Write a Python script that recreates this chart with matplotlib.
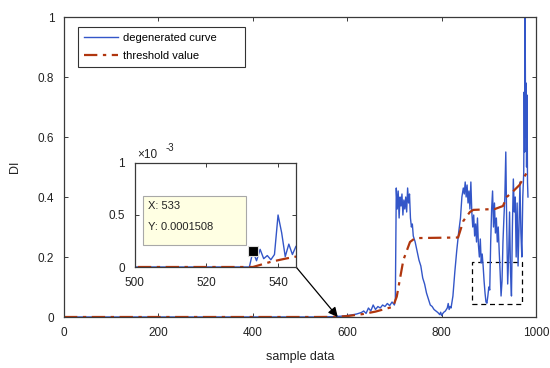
import matplotlib
matplotlib.use("Agg")
import matplotlib.pyplot as plt
from matplotlib.patches import Rectangle
from matplotlib.ticker import FuncFormatter

plt.rcParams['font.family'] = ['Liberation Sans', 'DejaVu Sans']

# ---- data: degenerated curve (DI vs sample) ----
curve_x = [0, 532, 533, 534, 535, 536, 537, 538, 539, 540, 541, 542, 543, 544, 545, 546,
           550, 560, 570, 580, 590, 600, 610, 620, 630, 635, 640, 645, 650, 655, 660, 665,
           670, 675, 680, 685, 690, 695, 700, 702,
           704, 706, 708, 710, 712, 714, 716, 718, 720, 722, 724, 726, 728, 730, 732, 734,
           736, 738, 740, 744, 748, 752, 756, 760, 764, 768, 772, 776, 780, 784, 788, 792,
           796, 798, 800, 804, 808, 812, 814, 816, 818, 820, 822, 824, 828, 832, 836, 840,
           843, 846, 848, 850, 852, 854, 856, 858, 860, 862, 864, 866, 868, 870, 872, 874,
           876, 878, 880, 882, 884, 886, 888, 890, 892, 894, 896, 898, 900, 902, 904, 906,
           908, 910, 912, 914, 916, 918, 920, 922, 924, 926, 928, 930, 932, 934, 936, 938,
           940, 942, 944, 946, 948, 950, 952, 954, 956, 958, 960, 962, 964, 966, 968, 970,
           972, 974, 975, 976, 977, 978, 979, 980, 981, 982, 983]
curve_y = [0, 0, 1.508e-4, 0.6e-4, 1.7e-4, 0.8e-4, 1.1e-4, 0.7e-4, 1.2e-4, 5.0e-4, 3.3e-4,
           1.0e-4, 2.2e-4, 1.2e-4, 2.0e-4, 1.5e-4,
           0.0003, 0.0005, 0.001, 0.002, 0.003, 0.005, 0.007, 0.010, 0.015, 0.020, 0.012,
           0.030, 0.020, 0.040, 0.025, 0.035, 0.030, 0.040, 0.035, 0.045, 0.038, 0.050,
           0.040, 0.060,
           0.43, 0.36, 0.42, 0.33, 0.40, 0.37, 0.41, 0.34, 0.39, 0.36, 0.40, 0.35, 0.43,
           0.38, 0.41, 0.33, 0.30, 0.31, 0.27, 0.25, 0.22, 0.19, 0.17, 0.13, 0.11, 0.08,
           0.06, 0.04, 0.035, 0.025, 0.020, 0.015, 0.008, 0.016, 0.005, 0.015, 0.020, 0.030,
           0.045, 0.025, 0.035, 0.030, 0.050, 0.070, 0.15, 0.22, 0.28, 0.33,
           0.40, 0.43, 0.41, 0.45, 0.40, 0.44, 0.38, 0.42, 0.36, 0.45, 0.35, 0.30, 0.34,
           0.27, 0.31, 0.25, 0.33, 0.24, 0.20, 0.26, 0.18, 0.21, 0.17, 0.12, 0.08, 0.05,
           0.046, 0.07, 0.10, 0.09, 0.25, 0.36, 0.42, 0.30, 0.38, 0.28, 0.33, 0.25, 0.30,
           0.22, 0.15, 0.07, 0.12, 0.25, 0.33, 0.40, 0.55, 0.30, 0.11, 0.20, 0.35, 0.15,
           0.07, 0.30, 0.46, 0.35, 0.40, 0.20, 0.38, 0.17, 0.30, 0.45, 0.28, 0.20, 0.40,
           0.48, 0.75, 0.55, 1.00, 0.60, 0.78, 0.50, 0.74, 0.45, 0.40]

# ---- data: threshold value ----
thr_x = [0, 533, 535, 538, 542, 545, 560, 580, 600, 634, 660, 697, 705, 719, 733, 744,
         835, 846, 860, 867, 913, 930, 938, 951, 965, 980, 983]
thr_y = [0, 0, 0.2e-4, 0.5e-4, 0.8e-4, 1.0e-4, 0.0003, 0.001, 0.003, 0.010, 0.018, 0.034,
         0.068, 0.19, 0.25, 0.263, 0.265, 0.32, 0.35, 0.357, 0.36, 0.37, 0.40, 0.418,
         0.44, 0.48, 0.49]

tip_x, tip_y = 533, 0.0001508

BLUE = '#3356c8'
RED = '#b0360e'
AX = '#3a3a3a'
TXT = '#222222'
DASHDOT = (0, (6, 2.5, 1.5, 2.5))

fig = plt.figure(figsize=(5.5, 3.68), dpi=100)
ax = fig.add_axes([64/550, 1-317/368, 472/550, 300/368])
ax.plot(curve_x, curve_y, color=BLUE, lw=1.0, label='degenerated curve')
ax.plot(thr_x, thr_y, color=RED, lw=1.6, ls=DASHDOT, label='threshold value')
ax.set_xlim(0, 1000)
ax.set_ylim(0, 1)
ax.set_xticks([0, 200, 400, 600, 800, 1000])
ax.set_yticks([0, 0.2, 0.4, 0.6, 0.8, 1.0])
ax.set_yticklabels(['0', '0.2', '0.4', '0.6', '0.8', '1'])
ax.tick_params(direction='in', top=True, right=True, labelsize=8.5, length=3,
               color=AX, labelcolor=TXT, width=0.7, pad=7)
for s in ax.spines.values():
    s.set_color(AX)
    s.set_linewidth(0.9)
ax.set_xlabel('sample data', fontsize=9, color=TXT, labelpad=9)
ax.set_ylabel('DI', fontsize=9, color=TXT, labelpad=12)

leg_h = 43/300
leg = ax.legend(loc='upper left', bbox_to_anchor=(0.03, 0.967 - leg_h, 167/472, leg_h),
                mode='expand', borderaxespad=0,
                fontsize=8, fancybox=False, edgecolor='black', handlelength=3.0,
                labelspacing=0.75, borderpad=0.55, handletextpad=0.45)
leg.get_frame().set_linewidth(0.8)

# dashed rectangle
ax.add_patch(Rectangle((864, 0.043), 106, 0.14, fill=False, ec='black', lw=0.9,
                       ls=(0, (4, 3))))

# arrow from inset to main curve
ax.annotate('', xy=(580, 0.0), xytext=(491.5, 0.167),
            arrowprops=dict(arrowstyle='-|>', color='black', lw=0.9,
                            mutation_scale=14, shrinkA=0, shrinkB=0))

# inset
ai = fig.add_axes([134.5/550, 1-267/368, 161.5/550, 104/368])
ai.plot(curve_x, curve_y, color=BLUE, lw=1.0)
ai.plot(thr_x, thr_y, color=RED, lw=1.6, ls=DASHDOT)
ai.set_xlim(500, 545)
ai.set_ylim(0, 1e-3)
ai.set_xticks([500, 520, 540])
ai.set_yticks([0, 0.5e-3, 1e-3])
ai.yaxis.set_major_formatter(FuncFormatter(lambda v, p: f"{v*1e3:g}"))
ai.tick_params(direction='in', top=True, right=True, labelsize=8.5, length=3,
               color=AX, labelcolor=TXT, width=0.7, pad=7)
for s in ai.spines.values():
    s.set_color(AX)
    s.set_linewidth(0.9)
ai.plot([tip_x], [tip_y], marker='s', ms=7.5, color='black', mec='#dddddd', mew=0.8,
        zorder=5)
ai.add_patch(Rectangle((502.4, 0.21e-3), 28.6, 0.47e-3, fc='#ffffe3', ec='#a8a8a8',
                       lw=0.8, zorder=4))
ai.text(503.8, 0.585e-3, f"X: {tip_x}", fontsize=8, va='center', color=TXT, zorder=6)
ai.text(503.8, 0.38e-3, f"Y: {tip_y}", fontsize=8, va='center', color=TXT, zorder=6)
ai.text(0.015, 1.02, '×10', transform=ai.transAxes, fontsize=8.5, va='bottom', color=TXT)
ai.text(0.19, 1.10, '-3', transform=ai.transAxes, fontsize=7, va='bottom', color=TXT)

fig.savefig('out.png', dpi=100)
